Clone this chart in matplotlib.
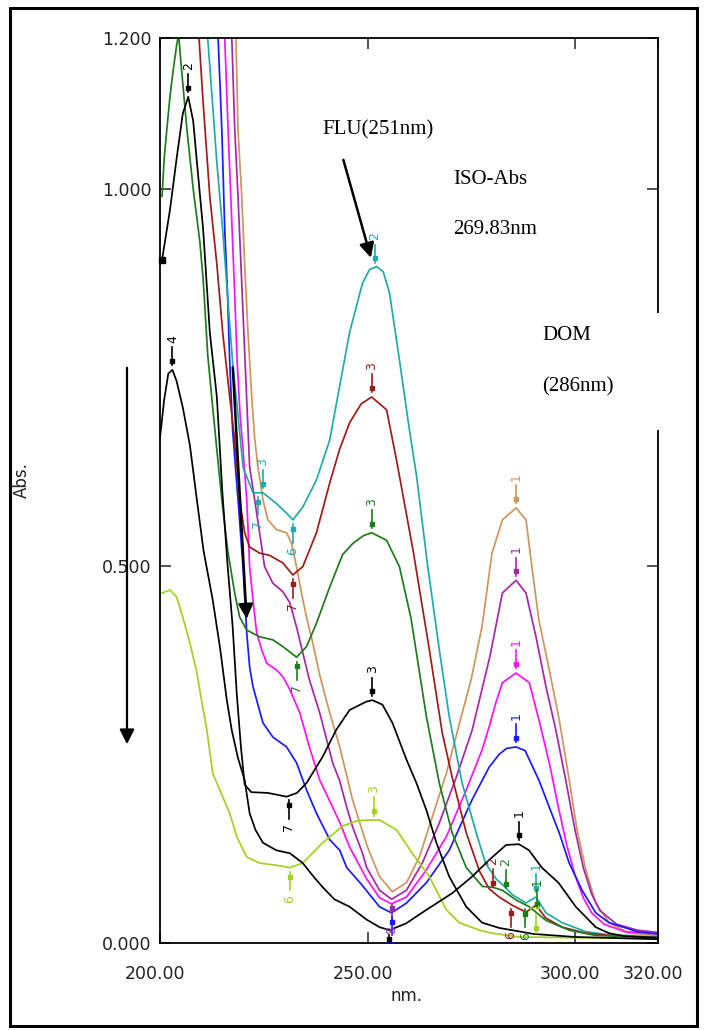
import numpy as np
import matplotlib.pyplot as plt
import matplotlib.transforms as mtransforms
from matplotlib.patches import Rectangle

# wavelength (nm) / absorbance
wl_tan = [217.8, 218.3, 218.8, 219.7, 220.4, 221.2, 222.1, 222.8, 223.6, 224.8, 226, 228.1, 230.5, 231.7,
          232.9, 234.1, 235.3, 236.8, 238.5, 240.9, 243.3, 246.4, 249.8, 252.9, 256, 259.4, 262.5, 265.6,
          269, 272.1, 275, 277.6, 280, 282.5, 285.8, 288.2, 289.7, 291.3, 293.8, 296.2, 298.5, 300.5,
          302.6, 305, 308.2, 313, 320]
abs_tan = [1.3, 1.2, 1.078, 0.99, 0.9, 0.81, 0.724, 0.67, 0.631, 0.588, 0.561, 0.548, 0.544, 0.53,
           0.499, 0.464, 0.432, 0.398, 0.355, 0.305, 0.26, 0.19, 0.13, 0.088, 0.068, 0.08, 0.114, 0.167,
           0.225, 0.29, 0.35, 0.42, 0.517, 0.561, 0.577, 0.561, 0.495, 0.428, 0.362, 0.296, 0.22, 0.15,
           0.097, 0.053, 0.027, 0.013, 0.01]

wl_purple = [216.8, 217.3, 218, 218.8, 219.5, 220.2, 220.9, 221.6, 222.8, 224, 225.2, 227.2, 229.6, 231.3,
             232.9, 234.4, 236, 238.5, 241.6, 243.3, 245, 246.4, 248.8, 249.8, 252.9, 255.8, 259.4, 263.2,
             267.3, 271.4, 275.2, 279.5, 282.5, 285.8, 288.2, 290.6, 293, 295.4, 297.8, 300, 302, 304,
             306, 310, 315, 320]
abs_purple = [1.3, 1.2, 1.08, 0.99, 0.9, 0.81, 0.72, 0.631, 0.588, 0.544, 0.499, 0.477, 0.466, 0.451,
              0.419, 0.385, 0.349, 0.305, 0.239, 0.215, 0.18, 0.154, 0.119, 0.1, 0.07, 0.058, 0.07, 0.106,
              0.159, 0.22, 0.282, 0.38, 0.464, 0.481, 0.464, 0.406, 0.34, 0.282, 0.215, 0.15, 0.1, 0.065,
              0.043, 0.025, 0.017, 0.014]

wl_magenta = [215.1, 215.6, 216.4, 217.2, 218, 218.6, 219.3, 220, 220.9, 221.6, 222.4, 223.3, 224.5, 225.7,
              228.1, 229.6, 231.3, 233.7, 236, 238.5, 241.6, 243.3, 245.7, 249.8, 252.9, 255.8, 259.4,
              264.2, 269, 273.8, 277.6, 279.5, 281, 282.5, 285.8, 289, 291.3, 293.8, 296, 298, 300, 302,
              304, 307, 312, 320]
abs_magenta = [1.3, 1.2, 1.08, 0.97, 0.86, 0.77, 0.7, 0.654, 0.588, 0.499, 0.455, 0.411, 0.389, 0.371,
               0.362, 0.353, 0.336, 0.305, 0.26, 0.216, 0.18, 0.16, 0.127, 0.085, 0.06, 0.052, 0.061,
               0.097, 0.141, 0.203, 0.256, 0.29, 0.32, 0.345, 0.358, 0.345, 0.296, 0.239, 0.18, 0.13, 0.09,
               0.06, 0.04, 0.025, 0.015, 0.012]

wl_blue = [213.5, 214, 214.9, 215.6, 216.3, 216.8, 217.5, 218.2, 218.8, 220, 220.9, 221.6, 222.4, 223.3,
           224.8, 227.2, 230.5, 232.9, 235.3, 237.7, 240.9, 243.3, 245, 248.5, 252.9, 255.8, 259.4, 264.2,
           269.7, 275.2, 279.3, 281.7, 283.5, 285.8, 288, 290.1, 291.3, 293.8, 296.2, 298.6, 301.7, 305,
           308.2, 315, 320]
abs_blue = [1.3, 1.2, 1.078, 0.946, 0.857, 0.77, 0.68, 0.63, 0.588, 0.499, 0.411, 0.366, 0.34, 0.322,
            0.292, 0.273, 0.26, 0.239, 0.203, 0.172, 0.137, 0.123, 0.1, 0.078, 0.048, 0.04, 0.053, 0.08,
            0.123, 0.19, 0.233, 0.25, 0.258, 0.26, 0.255, 0.23, 0.216, 0.18, 0.146, 0.106, 0.07, 0.04,
            0.027, 0.015, 0.012]

wl_cyan = [211, 211.5, 213.7, 215.1, 216.3, 217.5, 218.8, 220, 222.4, 224.8, 228, 230.5, 232, 234.4, 237.7,
           240.9, 243, 245.7, 248.8, 250.5, 252.2, 253.8, 255.3, 257.7, 260, 261.8, 264.5, 267.3, 269.7,
           272.8, 276.2, 278.5, 281, 283, 284.9, 288.2, 290.6, 293, 296.9, 302.6, 308, 320]
abs_cyan = [1.3, 1.2, 1.035, 0.946, 0.857, 0.77, 0.7, 0.631, 0.597, 0.597, 0.583, 0.57, 0.561, 0.578, 0.614,
            0.667, 0.73, 0.81, 0.875, 0.893, 0.897, 0.89, 0.862, 0.773, 0.684, 0.62, 0.5, 0.389, 0.3,
            0.212, 0.146, 0.105, 0.085, 0.075, 0.064, 0.053, 0.061, 0.04, 0.027, 0.015, 0.011, 0.008]

wl_red = [208.5, 209.4, 210.3, 212, 213.7, 215.1, 216.8, 218, 219.2, 220.4, 221.6, 224, 226.4, 229.6, 232,
          234.4, 237.7, 240.9, 243.3, 245.7, 248.5, 251, 254.6, 257, 261, 264.9, 268, 270.4, 273.8, 277,
          279.3, 281.7, 284.9, 288.2, 290.6, 293, 296.9, 302.6, 310, 320]
abs_red = [1.3, 1.2, 1.122, 0.99, 0.9, 0.81, 0.724, 0.667, 0.588, 0.544, 0.525, 0.517, 0.514, 0.504, 0.488,
           0.499, 0.544, 0.61, 0.655, 0.69, 0.715, 0.724, 0.707, 0.64, 0.52, 0.389, 0.279, 0.22, 0.146,
           0.095, 0.072, 0.061, 0.05, 0.041, 0.05, 0.033, 0.021, 0.013, 0.009, 0.007]

wl_green = [200.5, 201, 201.7, 202.4, 203.1, 204, 204.5, 205, 206.5, 208, 209.6, 210.4, 211.5, 212.7, 213.7,
            214.9, 216.3, 218, 219.2, 220.9, 224, 227.2, 229.6, 232.9, 235.3, 237.7, 240.9, 244, 246.5,
            249, 251, 254.6, 257.7, 260.5, 264.2, 267.3, 270.4, 273.8, 277.7, 280.1, 282.5, 285.8, 289,
            293, 298.6, 305, 320]
abs_green = [0.99, 1.04, 1.082, 1.122, 1.154, 1.19, 1.205, 1.17, 1.078, 1.0, 0.93, 0.88, 0.78, 0.71, 0.654,
             0.588, 0.521, 0.464, 0.432, 0.415, 0.406, 0.402, 0.393, 0.379, 0.393, 0.424, 0.472, 0.515,
             0.53, 0.54, 0.544, 0.534, 0.499, 0.43, 0.3, 0.212, 0.146, 0.1, 0.075, 0.074, 0.07, 0.057,
             0.048, 0.03, 0.017, 0.01, 0.007]

wl_flu = [200.5, 202.4, 204, 205.5, 206.8, 208, 208.9, 210.4, 212, 213.7, 215, 216.3, 217.5, 218.5, 219.5,
          220.4, 222, 226, 230.5, 233, 235.3, 239.2, 242.5, 245.7, 249.7, 251.2, 253.6, 256, 259.4, 261.8,
          264.2, 266.6, 269.7, 273.8, 277.6, 281.7, 290, 300, 320]
abs_flu = [0.906, 0.972, 1.04, 1.1, 1.122, 1.09, 1.035, 0.946, 0.81, 0.724, 0.6, 0.5, 0.42, 0.33, 0.26,
           0.21, 0.2, 0.199, 0.194, 0.199, 0.212, 0.247, 0.283, 0.309, 0.32, 0.322, 0.316, 0.292, 0.243,
           0.212, 0.176, 0.133, 0.088, 0.048, 0.027, 0.02, 0.012, 0.008, 0.005]

wl_dom = [200, 201, 202, 203, 204, 205.5, 207.2, 208.9, 210.5, 212.7, 214.5, 216.1, 217.3, 218.8, 220.4,
          221.6, 223, 224.8, 228, 231.3, 234.4, 237, 239.2, 242, 245.7, 249.8, 252.9, 255.3, 259.3, 264.2,
          270.4, 275.2, 279.3, 283.4, 286.5, 288.9, 292, 296, 300.2, 305, 308.2, 312, 320]
abs_dom = [0.67, 0.72, 0.755, 0.76, 0.745, 0.71, 0.66, 0.587, 0.52, 0.455, 0.39, 0.322, 0.282, 0.245, 0.216,
           0.172, 0.15, 0.133, 0.123, 0.119, 0.106, 0.088, 0.074, 0.058, 0.048, 0.031, 0.021, 0.017, 0.026,
           0.044, 0.066, 0.088, 0.11, 0.13, 0.131, 0.123, 0.1, 0.08, 0.048, 0.021, 0.013, 0.009, 0.007]

wl_yg = [200.5, 202.4, 204, 205.5, 207.2, 208.9, 210, 211.3, 212.7, 215.1, 216.8, 218.5, 220.9, 224, 228.1,
         231.3, 234.4, 239.2, 244, 247.4, 250, 252.9, 257, 260.8, 264.9, 269, 272.1, 277, 280, 286.5, 300, 320]
abs_yg = [0.464, 0.468, 0.459, 0.432, 0.398, 0.358, 0.322, 0.282, 0.225, 0.194, 0.172, 0.141, 0.114, 0.106,
          0.103, 0.1, 0.106, 0.133, 0.155, 0.162, 0.163, 0.163, 0.15, 0.119, 0.088, 0.044, 0.027, 0.017,
          0.013, 0.008, 0.007, 0.006]

series = {
    'tan': (wl_tan, abs_tan, '#d0955a'),
    'purple': (wl_purple, abs_purple, '#a826a8'),
    'magenta': (wl_magenta, abs_magenta, '#ff10ff'),
    'blue': (wl_blue, abs_blue, '#1a1aff'),
    'cyan': (wl_cyan, abs_cyan, '#22aaaa'),
    'red': (wl_red, abs_red, '#a01a1a'),
    'green': (wl_green, abs_green, '#1c7c1c'),
    'yg': (wl_yg, abs_yg, '#a2d21a'),
    'flu': (wl_flu, abs_flu, '#000000'),
    'dom': (wl_dom, abs_dom, '#000000'),
}

# peak / valley tags: series, wavelength, label, 1 = above, 0 = below
tag_series = ['cyan', 'cyan', 'cyan', 'cyan', 'red', 'red', 'green', 'green', 'green', 'flu', 'flu', 'flu',
              'dom', 'dom', 'tan', 'purple', 'magenta', 'blue', 'yg', 'yg',
              'red', 'green', 'cyan', 'green', 'yg', 'purple', 'blue', 'dom', 'red', 'green']
tag_wl = [251.7, 224.8, 223.5, 232, 251, 232, 204.3, 251, 232.9, 206.8, 251.2, 231, 203, 286.5, 285.8,
          285.8, 285.8, 285.8, 251.5, 231.3,
          280.2, 283.4, 290.6, 290.8, 290.5, 255.8, 255.8, 255.3, 284.5, 288]
tag_text = ['2', '3', '7', '6', '3', '7', '2', '3', '7', '2', '3', '7', '4', '1', '1', '1', '1', '1', '3', '6',
            '2', '2', '1', '1', '1', '8', '8', '8', '6', '6']
tag_up = [1, 1, 0, 0, 1, 0, 1, 1, 0, 1, 1, 0, 1, 1, 1, 1, 1, 1, 1, 0,
          1, 1, 1, 1, 1, 0, 0, 0, 0, 0]

fig = plt.figure(figsize=(7.04, 10.30), dpi=100)
ax = fig.add_axes([160 / 704, 87 / 1030, 498 / 704, 905 / 1030])

for name, (wl, ab, col) in series.items():
    ax.plot(wl, ab, color=col, lw=1.25)
ax.plot(wl_flu[0], abs_flu[0], 's', color='k', ms=4, clip_on=False)

for s, w, t, u in zip(tag_series, tag_wl, tag_text, tag_up):
    wl, ab, col = series[s]
    y = np.interp(w, wl, ab)
    sg = 1 if u else -1
    ax.plot([w, w], [y + sg * 0.006, y + sg * 0.03], color=col, lw=1.2)
    ax.plot(w, y + sg * 0.012, 's', color=col, ms=3.5)
    ax.text(w, y + sg * 0.036, t, color=col, rotation=90, ha='center',
            va='bottom' if u else 'top', fontsize=9, clip_on=True)

ax.set_xlim(200, 320)
ax.set_ylim(0, 1.2)
ax.set_xticks([200, 250, 300, 320])
ax.set_xticklabels(['200.00', '250.00', '300.00', '320.00'])
ax.set_yticks([0, 0.5, 1.0, 1.2])
ax.set_yticklabels(['0.000', '0.500', '1.000', '1.200'])
ax.tick_params(direction='in', top=True, right=True, length=8, width=1.1, labelsize=12.5,
               colors='#222222')
ax.tick_params(axis='x', pad=16)
ax.tick_params(axis='y', pad=6)
shift = mtransforms.ScaledTranslation(-5 / 100, 0, fig.dpi_scale_trans)
for lab in ax.get_xticklabels():
    lab.set_transform(lab.get_transform() + shift)
for sp in ax.spines.values():
    sp.set_linewidth(1.3)

# arrows and notes
ax.annotate('', xy=(251.0, 0.905), xytext=(244.0, 1.042),
            arrowprops=dict(arrowstyle='-|>', lw=1.8, color='k', mutation_scale=22))
ax.annotate('', xy=(220.9, 0.426), xytext=(217.5, 0.767),
            arrowprops=dict(arrowstyle='-|>', lw=1.8, color='k', mutation_scale=22))
fig.patches.append(Rectangle((530 / 704, 1 - 430 / 1030), 150 / 704, 117 / 1030,
                             transform=fig.transFigure, fc='white', ec='none', zorder=3))
ax.annotate('', xy=(127 / 704, 1 - 747 / 1030), xytext=(127 / 704, 1 - 365 / 1030),
            xycoords='figure fraction', textcoords='figure fraction',
            arrowprops=dict(arrowstyle='-|>', lw=1.6, color='k', mutation_scale=22))

serif = dict(family='Liberation Serif', fontsize=15, zorder=4)
fig.text(322 / 704, 1 - 130 / 1030, 'FLU(251nm)', va='center', **serif)
fig.text(453 / 704, 1 - 179 / 1030, 'ISO-Abs', va='center', **serif)
fig.text(453 / 704, 1 - 230 / 1030, '269.83nm', va='center', **serif)
fig.text(542 / 704, 1 - 335 / 1030, 'DOM', va='center', **serif)
fig.text(542 / 704, 1 - 387 / 1030, '(286nm)', va='center', **serif)

fig.text(22 / 704, 1 - 480 / 1030, 'Abs.', rotation=90, ha='center', va='center', fontsize=12,
         color='#222222')
fig.text(407 / 704, 1 - 996 / 1030, 'nm.', ha='center', va='center', fontsize=12, color='#222222')

fig.patches.append(Rectangle((10 / 704, 1 - 1026 / 1030), 687 / 704, 1018 / 1030,
                             transform=fig.transFigure, fc='none', ec='black', lw=2.2, zorder=5))

fig.savefig('out.png', dpi=100)
